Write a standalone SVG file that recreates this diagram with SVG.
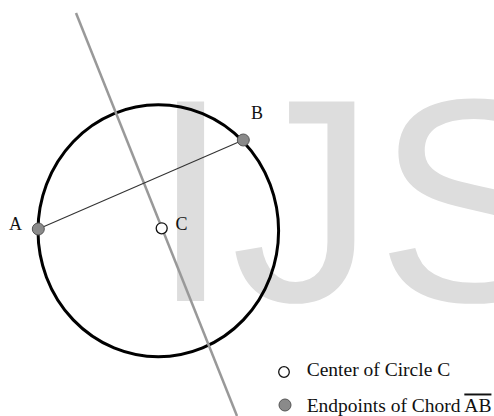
<svg xmlns="http://www.w3.org/2000/svg" width="494" height="416" viewBox="0 0 494 416">
<style>
.lbl{font-family:"Liberation Serif","Times New Roman",serif;font-size:18px;fill:#111}
.leg{font-family:"Liberation Serif","Times New Roman",serif;font-size:19.5px;fill:#111}
.end{fill:#8a8a8a;stroke:#555;stroke-width:1}
.ctr{fill:#fff;stroke:#111;stroke-width:1.3}
</style>
<rect width="494" height="416" fill="#fff"/>
<text id="watermark" x="150.3" y="301" font-family="'Liberation Sans',Arial,sans-serif" font-size="290" fill="#dddddd">IJS</text>
<g id="circle">
<ellipse cx="158.3" cy="230.8" rx="120.3" ry="126" fill="none" stroke="#000" stroke-width="3"/>
</g>
<g id="connectors">
<line x1="76" y1="13" x2="237" y2="416" stroke="#999" stroke-width="2.5"/>
<line x1="38.3" y1="229" x2="243.3" y2="140" stroke="#333" stroke-width="1.1"/>
</g>
<g id="pointA">
<circle class="end" cx="38.3" cy="229" r="6"/>
<text class="lbl" x="9" y="230">A</text>
</g>
<g id="pointB">
<circle class="end" cx="243.3" cy="140" r="6"/>
<text class="lbl" x="251" y="119.3">B</text>
</g>
<g id="pointC">
<circle class="ctr" cx="161.7" cy="228.3" r="5.5"/>
<text class="lbl" x="175.5" y="229.5">C</text>
</g>
<g id="legend">
<circle class="ctr" cx="284" cy="372" r="5.3"/>
<text class="leg" x="306.7" y="375.5">Center of Circle C</text>
<circle class="end" cx="285" cy="405" r="6"/>
<text class="leg" x="306.7" y="411.5">Endpoints of Chord <tspan style="text-decoration:overline">AB</tspan></text>
</g>
</svg>
